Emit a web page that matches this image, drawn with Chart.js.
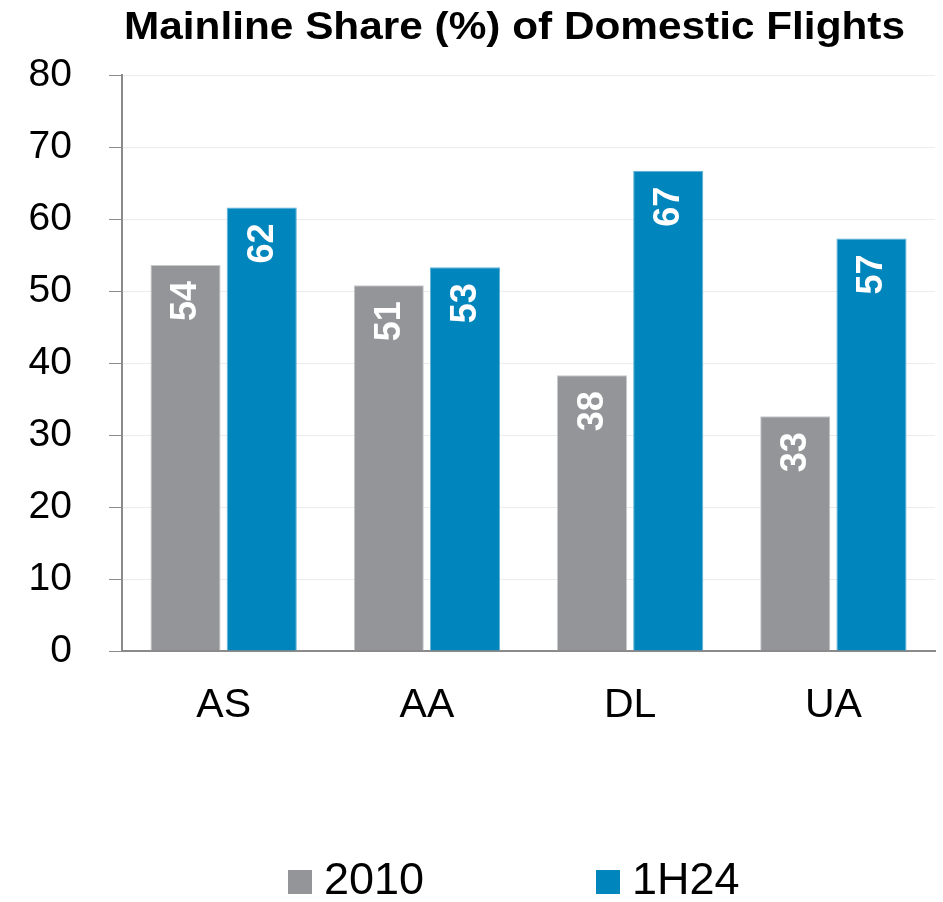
<!DOCTYPE html>
<html><head><meta charset="utf-8">
<script src="https://cdn.jsdelivr.net/npm/chart.js@4"></script>
<style>html,body{margin:0;padding:0;background:#fff}#wrap{width:943px;height:902px}</style>
</head><body><div id="wrap"><canvas id="c" width="943" height="902"></canvas></div>
<script>
const categories = ["AS", "AA", "DL", "UA"];
const seriesNames = ["2010", "1H24"];
const values2010 = [53.6, 50.8, 38.3, 32.6];
const values1H24 = [61.6, 53.3, 66.7, 57.3];
const yTicks = [0, 10, 20, 30, 40, 50, 60, 70, 80];
const titleText = "Mainline Share (%) of Domestic Flights";

const FONT = '"Liberation Sans", Arial, Helvetica, sans-serif';

const titlePlugin = {
  id: 'customTitle',
  afterDraw(chart) {
    const ctx = chart.ctx;
    ctx.save();
    ctx.font = 'bold 39px ' + FONT;
    ctx.fillStyle = '#000';
    ctx.textBaseline = 'alphabetic';
    ctx.textAlign = 'left';
    const w = ctx.measureText(titleText).width;
    const target = 781;
    ctx.translate(124, 39);
    ctx.scale(target / w, 1);
    ctx.fillText(titleText, 0, 0);
    ctx.restore();
  }
};

const legendPlugin = {
  id: 'customLegend',
  afterDraw(chart) {
    const ctx = chart.ctx;
    const starts = [288, 596];
    ctx.save();
    ctx.font = '45px ' + FONT;
    ctx.textBaseline = 'middle';
    ctx.textAlign = 'left';
    chart.data.datasets.forEach((ds, i) => {
      const x = starts[i];
      ctx.fillStyle = ds.backgroundColor;
      ctx.fillRect(x, 870, 24, 24);
      ctx.fillStyle = '#000';
      ctx.fillText(ds.label, x + 36, 882);
    });
    ctx.restore();
  }
};

const barLabels = {
  id: 'barLabels',
  afterDatasetsDraw(chart) {
    const ctx = chart.ctx;
    chart.data.datasets.forEach((ds, i) => {
      chart.getDatasetMeta(i).data.forEach((bar, j) => {
        const txt = String(Math.round(ds.data[j]));
        ctx.save();
        ctx.translate(bar.x, bar.y + 16);
        ctx.rotate(-Math.PI / 2);
        ctx.font = 'bold 36px ' + FONT;
        ctx.fillStyle = '#fff';
        ctx.textAlign = 'right';
        ctx.textBaseline = 'middle';
        ctx.fillText(txt, 0, 1);
        ctx.restore();
      });
    });
  }
};

new Chart(document.getElementById('c'), {
  type: 'bar',
  data: {
    labels: categories,
    datasets: [
      { label: seriesNames[0], data: values2010, backgroundColor: '#939598', borderColor: '#c8c9cb', borderWidth: 1 },
      { label: seriesNames[1], data: values1H24, backgroundColor: '#0085bc', borderColor: '#5fb0d6', borderWidth: 1 }
    ]
  },
  options: {
    responsive: false,
    animation: false,
    layout: { padding: { left: 0, right: 8, top: 75, bottom: 151 } },
    datasets: { bar: { barPercentage: 0.92, categoryPercentage: 0.75 } },
    plugins: {
      title: { display: false },
      legend: { display: false },
      tooltip: { enabled: false }
    },
    scales: {
      x: {
        grid: { display: false, drawTicks: false },
        border: { color: '#8a8a8a', width: 2 },
        ticks: { color: '#000', padding: 30, font: { family: FONT, size: 41 } },
        afterFit(s) { s.height = 100; }
      },
      y: {
        min: 0, max: 80,
        afterBuildTicks(s) { s.ticks = yTicks.map(v => ({ value: v })); },
        grid: { color: '#ececec', tickColor: '#8a8a8a', tickLength: 13, lineWidth: 1 },
        border: { color: '#8a8a8a', width: 2 },
        ticks: { color: '#000', padding: 37, font: { family: FONT, size: 39 } },
        afterFit(s) { s.width = 122; }
      }
    }
  },
  plugins: [barLabels, titlePlugin, legendPlugin]
});
</script></body></html>
